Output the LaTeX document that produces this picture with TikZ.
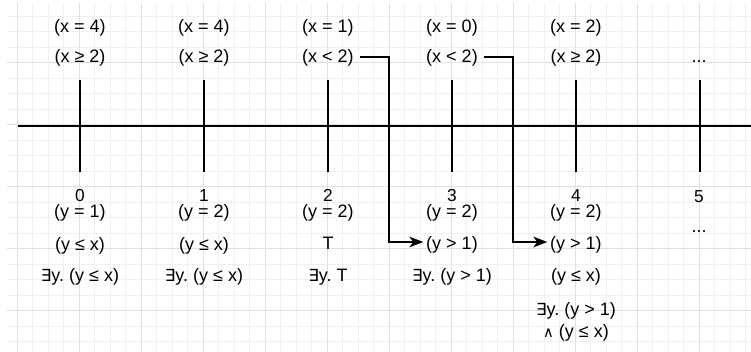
\documentclass[tikz,border=0pt]{standalone}
\usepackage{fontspec}
\setmainfont{Liberation Sans}
\newfontfamily\symfont{DejaVu Sans}
\usetikzlibrary{arrows.meta}
\definecolor{gridminor}{RGB}{240,240,240}
\definecolor{gridmajor}{RGB}{224,224,224}
\newcommand{\ex}{{\symfont\fontsize{12.5}{15}\selectfont ∃}}
\newcommand{\andsym}{{\symfont\fontsize{11}{15}\selectfont ∧}}
\frenchspacing
\begin{document}
\frenchspacing
\begin{tikzpicture}[x=0.75pt,y=-0.75pt,
  lbl/.style={anchor=base,inner sep=0pt,font=\fontsize{13.5}{16}\selectfont},
  num/.style={anchor=base,inner sep=0pt,font=\fontsize{13}{15}\selectfont},
  axisline/.style={line width=1.1pt,black},
  minorline/.style={gridminor,line width=0.75pt},
  majorline/.style={gridmajor,line width=0.75pt},
  conn/.style={line width=1pt,-{Stealth[length=10.5pt,width=8pt,inset=3pt]}}]
\useasboundingbox (0,0) rectangle (751,352);
\fill[white] (0,0) rectangle (751,352);
% grid
\foreach \i in {0,...,47} {
  \pgfmathsetmacro\xx{17+15.5*\i}
  \draw[minorline] (\xx,3) -- (\xx,352);
}
\foreach \i in {1,...,22} {
  \pgfmathsetmacro\yy{1+15.5*\i}
  \draw[minorline] (7,\yy) -- (751,\yy);
}
\foreach \i in {0,...,11} {
  \pgfmathsetmacro\xx{17+62*\i}
  \draw[majorline] (\xx,3) -- (\xx,352);
}
\foreach \i in {1,...,5} {
  \pgfmathsetmacro\yy{1+62*\i}
  \draw[majorline] (7,\yy) -- (751,\yy);
}
% axis and ticks
\draw[axisline] (18,126) -- (751,126);
\foreach \x in {80,204,328,452,576,700} {
  \draw[axisline] (\x,80) -- (\x,172);
}
% top labels
\node[lbl] (t0a) at (80,33) {(x = 4)};
\node[lbl] (t0b) at (80,63) {(x ≥ 2)};
\node[lbl] (t1a) at (204,33) {(x = 4)};
\node[lbl] (t1b) at (204,63) {(x ≥ 2)};
\node[lbl] (t2a) at (328,33) {(x = 1)};
\node[lbl] (t2b) at (328,63) {(x < 2)};
\node[lbl] (t3a) at (452,33) {(x = 0)};
\node[lbl] (t3b) at (452,63) {(x < 2)};
\node[lbl] (t4a) at (576,33) {(x = 2)};
\node[lbl] (t4b) at (576,63) {(x ≥ 2)};
\node[lbl] (t5b) at (699,63) {...};
% numbers
\node[num] (n0) at (80,202) {0};
\node[num] (n1) at (204,202) {1};
\node[num] (n2) at (328,202) {2};
\node[num] (n3) at (452,202) {3};
\node[num] (n4) at (576,202) {4};
\node[num] (n5) at (699,203) {5};
% bottom labels
\node[lbl] (b0a) at (80,218) {(y = 1)};
\node[lbl] (b0b) at (80,251) {(y ≤ x)};
\node[lbl] (b0c) at (80,282) {\ex y. (y ≤ x)};
\node[lbl] (b1a) at (204,218) {(y = 2)};
\node[lbl] (b1b) at (204,251) {(y ≤ x)};
\node[lbl] (b1c) at (204,282) {\ex y. (y ≤ x)};
\node[lbl] (b2a) at (328,218) {(y = 2)};
\node[lbl] (b2b) at (328,250) {T};
\node[lbl] (b2c) at (328,282) {\ex y. T};
\node[lbl] (b3a) at (452,218) {(y = 2)};
\node[lbl] (b3b) at (452,250) {(y > 1)};
\node[lbl] (b3c) at (452,282) {\ex y. (y > 1)};
\node[lbl] (b4a) at (576,218) {(y = 2)};
\node[lbl] (b4b) at (576,250) {(y > 1)};
\node[lbl] (b4c) at (576,282) {(y ≤ x)};
\node[lbl] (b4d) at (576,316) {\ex y. (y > 1)};
\node[lbl] (b4e) at (576,338) {\andsym\ (y ≤ x)};
\node[lbl] (b5a) at (699,233) {...};
% connectors
\coordinate (s1) at ([xshift=4.5pt]t2b.east);
\coordinate (k1) at (389,57);
\coordinate (k1b) at (389,242);
\coordinate (e1) at ([xshift=-2pt]b3b.west);
\draw[conn] (s1 |- k1) -- (k1) -- (k1b) -- (e1 |- k1b);
\coordinate (s2) at ([xshift=4.5pt]t3b.east);
\coordinate (k2) at (513,57);
\coordinate (k2b) at (513,242);
\coordinate (e2) at ([xshift=-2pt]b4b.west);
\draw[conn] (s2 |- k2) -- (k2) -- (k2b) -- (e2 |- k2b);
\end{tikzpicture}
\end{document}
